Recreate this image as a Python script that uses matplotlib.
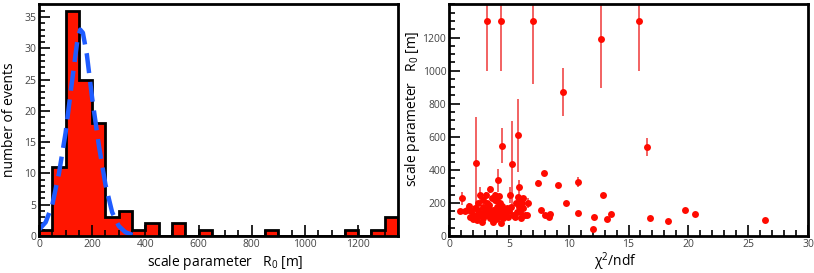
from __future__ import annotations

import matplotlib

matplotlib.use("Agg")
import matplotlib.pyplot as plt
import numpy as np


# histogram of R0 (50 m bins)
BIN_EDGES = [0, 50, 100, 150, 200, 250, 300, 350, 400, 450, 500, 550, 600, 650, 700,
             750, 800, 850, 900, 950, 1000, 1050, 1100, 1150, 1200, 1250, 1300, 1350]
COUNTS = [1, 11, 36, 25, 18, 3, 4, 1, 2, 0, 2, 0, 1, 0, 0,
          0, 0, 1, 0, 0, 0, 0, 0, 1, 0, 1, 3]

# dashed fit curve
FIT_X = [0, 25, 50, 75, 100, 125, 145, 155, 165, 180, 200, 225, 250, 275, 300, 325, 350, 380]
FIT_Y = [1.0, 2.2, 5.0, 10.0, 16.5, 25.0, 31.5, 33.0, 32.5, 29.0, 22.0, 14.5, 8.2, 3.8, 1.6, 0.6, 0.2, 0.0]

# R0 vs chi2/ndf
CHI2 = [3.15, 4.31, 6.99, 12.69, 15.84, 9.49, 16.53, 2.23, 4.42, 5.27, 5.73,
        4.06, 7.46, 7.90, 9.07, 10.77,
        7.71, 8.02, 8.38, 8.43, 9.77, 10.77, 12.08, 12.0, 12.89, 13.2, 13.5, 16.8, 18.3, 19.7, 20.54, 26.4,
        1.06, 0.92, 1.34, 1.70, 1.75, 1.98, 2.03, 2.31, 2.45, 2.45, 2.59, 2.87, 2.73, 2.87, 3.09, 3.14,
        3.28, 3.42, 3.37, 3.56, 3.62, 3.70, 3.84, 3.87, 3.92, 3.98, 4.12, 4.26, 4.31, 4.34, 4.54, 4.68,
        4.81, 4.95, 5.09, 5.37, 5.51, 5.65, 5.73, 5.84, 5.87, 5.93, 6.07, 6.15, 6.21, 6.35, 6.48, 6.62,
        1.5, 1.8, 2.1, 2.2, 2.4, 2.6, 2.8, 3.0, 3.0, 3.2, 3.3, 3.4, 3.5, 3.6, 3.7, 3.8, 3.9, 4.0,
        4.1, 4.2, 4.4, 4.5, 4.7, 5.0, 5.2, 5.6, 5.9, 6.0]
R0 = [1300, 1300, 1300, 1190, 1300, 873, 539, 442, 547, 438, 609,
      337, 321, 379, 307, 325,
      155, 125, 113, 131, 198, 137, 117, 45, 250, 105, 133, 109, 93, 155, 135, 99,
      228, 151, 151, 182, 117, 117, 101, 97, 198, 157, 248, 218, 87, 178, 248, 147,
      127, 282, 188, 147, 107, 87, 218, 248, 147, 178, 117, 198, 167, 77, 137, 157,
      167, 117, 248, 127, 117, 147, 234, 294, 178, 147, 198, 228, 167, 127, 127, 198,
      160, 150, 130, 170, 120, 140, 110, 160, 125, 200, 165, 110, 135, 230, 160, 125, 100, 210,
      140, 240, 180, 110, 130, 150, 175, 200, 225, 110]
R0_ERR = [300, 300, 380, 296, 300, 145, 53, 278, 105, 258, 220,
          70, 20, 15, 15, 30,
          10, 10, 10, 10, 15, 10, 10, 10, 10, 10, 10, 8, 8, 8, 8, 8,
          40, 10, 10, 20, 10, 10, 10, 10, 15, 10, 50, 15, 10, 10, 20, 10,
          10, 20, 10, 10, 10, 10, 15, 20, 10, 10, 10, 10, 10, 10, 10, 10,
          10, 10, 50, 10, 10, 10, 15, 45, 10, 10, 15, 15, 10, 10, 10, 30,
          10, 10, 10, 10, 10, 10, 10, 10, 10, 10, 10, 10, 10, 10, 10, 10, 10, 10,
          10, 10, 10, 10, 10, 10, 10, 10, 10, 10]


def style_axis(ax) -> None:
    for sp in ax.spines.values():
        sp.set_linewidth(2.0)
        sp.set_color("black")
    ax.tick_params(which="both", direction="in", top=False, right=False,
                   colors="black", labelcolor="#444444", labelsize=7.5, width=1.2)
    ax.tick_params(which="major", length=8, pad=2)
    ax.tick_params(which="minor", length=4)
    for lab in ax.get_xticklabels() + ax.get_yticklabels():
        lab.set_fontfamily("Open Sans")


def plot_histogram(ax) -> None:
    ax.stairs(COUNTS, BIN_EDGES, fill=True, color="#ff1500", lw=0)
    ax.stairs(COUNTS, BIN_EDGES, color="black", lw=2.0)
    ax.plot(FIT_X, FIT_Y, color="#1f5cff", lw=3.2, dashes=(4.5, 2.0), solid_capstyle="butt")
    ax.set_xlim(0, 1350)
    ax.set_ylim(0, 37.1)
    ax.set_xticks(np.arange(0, 1201, 200))
    ax.set_xticks(np.arange(0, 1351, 50), minor=True)
    ax.set_yticks(np.arange(0, 36, 5))
    ax.set_yticks(np.arange(0, 37, 1), minor=True)
    style_axis(ax)
    ax.set_xlabel("scale parameter   R$_0$ [m]", fontsize=10, family="Open Sans")
    ax.xaxis.set_label_coords(0.52, -0.075)
    ax.set_ylabel("number of events", fontsize=10, family="Open Sans")
    ax.yaxis.set_label_coords(-0.06, 0.5)


def plot_scatter(ax) -> None:
    ax.errorbar(CHI2, R0, yerr=R0_ERR, fmt="o", color="#ff0a00", ms=5, mew=0,
                ecolor="#f04848", elinewidth=1.2, capsize=1.5, capthick=1.0)
    ax.set_xlim(0, 30)
    ax.set_ylim(0, 1403)
    ax.set_xticks(np.arange(0, 31, 5))
    ax.set_xticks(np.arange(0, 31, 1), minor=True)
    ax.set_yticks(np.arange(0, 1201, 200))
    ax.set_yticks(np.arange(0, 1401, 50), minor=True)
    style_axis(ax)
    ax.set_xlabel("χ$^2$/ndf", fontsize=10, family="Open Sans")
    ax.xaxis.set_label_coords(0.465, -0.06)
    ax.set_ylabel("scale parameter   R$_0$ [m]", fontsize=10, family="Open Sans")
    ax.yaxis.set_label_coords(-0.075, 0.55)


def main() -> None:
    plt.rcParams["font.family"] = ["Open Sans", "DejaVu Sans"]
    plt.rcParams["mathtext.default"] = "regular"
    fig = plt.figure(figsize=(8.14, 2.73), dpi=100)
    ax1 = fig.add_axes([39 / 814, 37 / 273, 359 / 814, 232 / 273])
    ax2 = fig.add_axes([449 / 814, 37 / 273, 359 / 814, 232 / 273])
    plot_histogram(ax1)
    plot_scatter(ax2)
    fig.savefig("out.png", dpi=100)
    plt.close(fig)


if __name__ == "__main__":
    main()
